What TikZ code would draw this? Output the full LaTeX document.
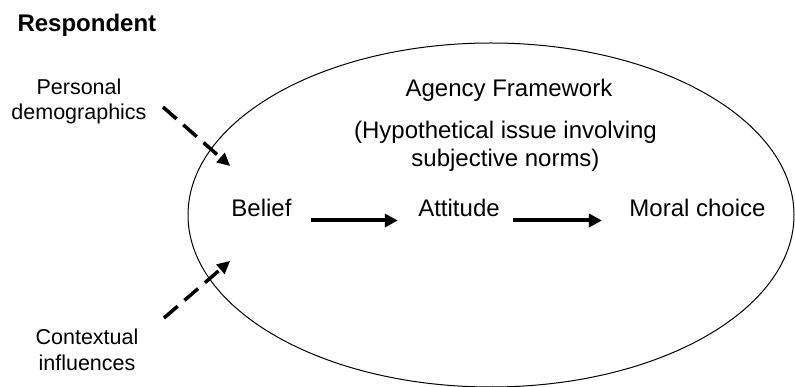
\documentclass[tikz,border=0pt]{standalone}
\usepackage{fontspec}
\setmainfont{Liberation Sans}
\usetikzlibrary{arrows.meta}

\begin{document}
\begin{tikzpicture}[x=1pt, y=-1pt, line width=1pt,
    every node/.style={inner sep=0pt, anchor=base},
    big/.style={font=\fontsize{24}{28}\selectfont, align=center},
    side/.style={font=\fontsize{21.5}{25}\selectfont, align=center},
    flow/.style={line width=4pt, -{Triangle[length=13pt, width=13pt]}},
    infl/.style={line width=3.5pt, dash pattern=on 18pt off 9pt,
                 -{Triangle[length=13pt, width=12pt, sep=9pt]}}]
    \useasboundingbox (0,0) rectangle (795,387);

    \node[font=\fontsize{24}{28}\selectfont\bfseries, anchor=base west] (resp) at (17,31.5) {Respondent};

    \draw (491,215) ellipse [x radius=303, y radius=172];

    \node[big] (agency) at (509,96.7) {Agency Framework};
    \node[big] (hypo) at (505.5,167) {(Hypothetical issue involving\\subjective norms)};

    \node[big] (belief) at (261.5,217) {Belief};
    \node[big] (att) at (459,217) {Attitude};
    \node[big] (moral) at (697.5,217) {Moral choice};

    \node[side] (pers) at (79,119.3) {Personal\\demographics};
    \node[side] (ctx) at (87,370) {Contextual\\influences};

    \coordinate (pers-out) at (163,107);
    \coordinate (pers-in) at (237,172);
    \coordinate (ctx-out) at (164,318);
    \coordinate (ctx-in) at (237,255);

    \draw[flow, shorten <=19pt, shorten >=20pt] ([yshift=-3.5pt]belief.base east) -- ([yshift=-3.5pt]att.base west);
    \draw[flow, shorten <=13pt, shorten >=27pt] ([yshift=-3.5pt]att.base east) -- ([yshift=-3.5pt]moral.base west);

    \draw[infl] (pers-out) -- (pers-in);
    \draw[infl] (ctx-out) -- (ctx-in);
\end{tikzpicture}
\end{document}
